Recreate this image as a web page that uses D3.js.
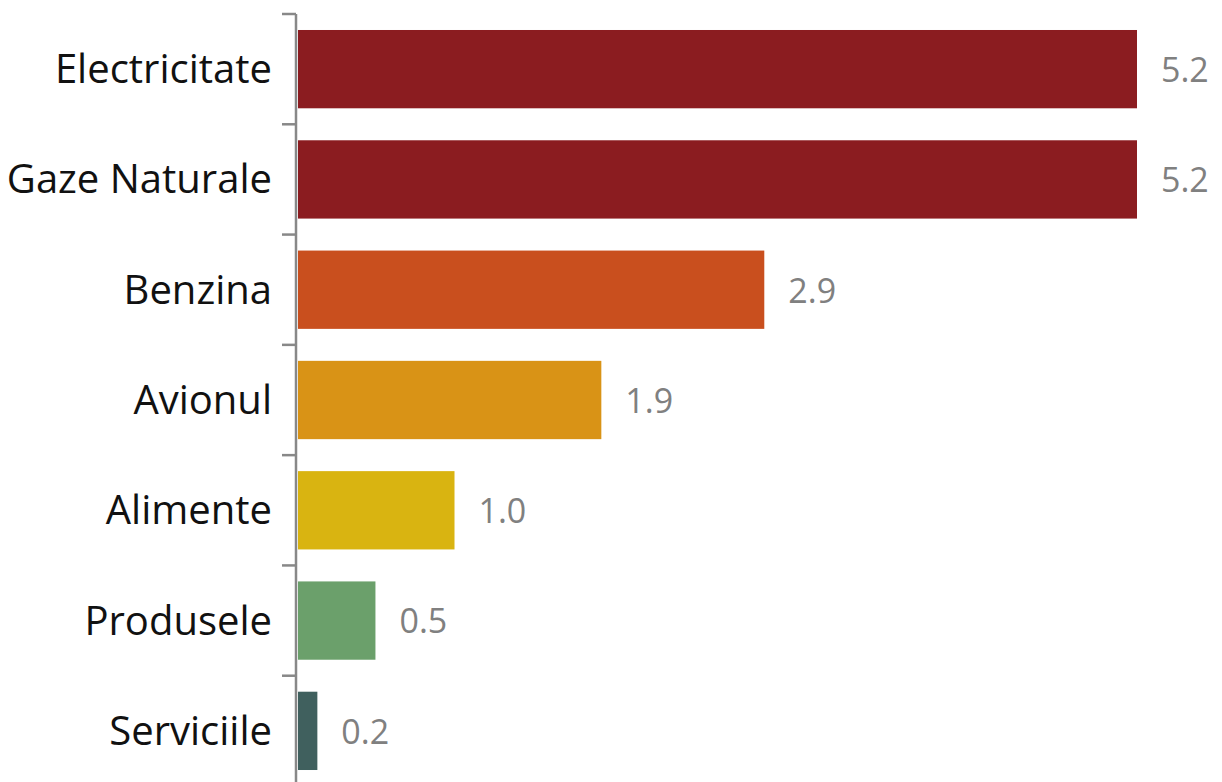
<!DOCTYPE html>
<html>
<head>
<meta charset="utf-8">
<script src="https://cdn.jsdelivr.net/npm/d3@7"></script>
<style>
	body { margin: 0; background: #fff; }
	text { font-family: "Open Sans", "Noto Sans", sans-serif; }
</style>
</head>
<body>
<div id="chart-area"></div>
<script>

const categories = ["Electricitate", "Gaze Naturale", "Benzina", "Avionul", "Alimente", "Produsele", "Serviciile"];
const values = [5.2, 5.2, 2.89, 1.88, 0.97, 0.48, 0.12];
const valueLabels = ["5.2", "5.2", "2.9", "1.9", "1.0", "0.5", "0.2"];
const colors = ["#8b1c20", "#8b1c20", "#c94f1e", "#d99316", "#d9b411", "#6ba06b", "#40605e"];

const width = 1222;
const height = 782;
const margin = {top: 14, right: 85, bottom: -4, left: 298};
const pad = 0.29;

var svg = d3.select("#chart-area").append("svg")
	.attr("width", width)
	.attr("height", height);

// 比例尺
var x = d3.scaleLinear()
	.domain([0, 5.2])
	.range([margin.left, width - margin.right]);

var y = d3.scaleBand()
	.domain(categories)
	.range([margin.top, height - margin.bottom])
	.paddingInner(pad)
	.paddingOuter(pad / 2);

var step = y.step();

// 条形
svg.selectAll(".bar")
	.data(categories)
	.enter().append("rect")
	.attr("class", "bar")
	.attr("x", x(0))
	.attr("y", d => y(d))
	.attr("width", (d, i) => x(values[i]) - x(0))
	.attr("height", y.bandwidth())
	.attr("fill", (d, i) => colors[i]);

// y轴
svg.append("line")
	.attr("x1", x(0) - 2).attr("x2", x(0) - 2)
	.attr("y1", margin.top).attr("y2", height)
	.attr("stroke", "#888")
	.attr("stroke-width", 2.5);

svg.selectAll(".tick")
	.data(categories)
	.enter().append("line")
	.attr("class", "tick")
	.attr("x1", x(0) - 16).attr("x2", x(0) - 2)
	.attr("y1", d => y(d) - step * pad / 2)
	.attr("y2", d => y(d) - step * pad / 2)
	.attr("stroke", "#888")
	.attr("stroke-width", 2.5);

// 类别标签
svg.selectAll(".cat")
	.data(categories)
	.enter().append("text")
	.attr("class", "cat")
	.attr("x", x(0) - 26)
	.attr("y", d => y(d) + y.bandwidth() / 2)
	.attr("dy", ".35em")
	.attr("text-anchor", "end")
	.attr("font-size", 40)
	.attr("fill", "#111")
	.text(d => d);

// 数值标签
svg.selectAll(".val")
	.data(categories)
	.enter().append("text")
	.attr("class", "val")
	.attr("x", (d, i) => x(values[i]) + 24)
	.attr("y", d => y(d) + y.bandwidth() / 2)
	.attr("dy", ".38em")
	.attr("font-size", 34)
	.attr("fill", "#808080")
	.text((d, i) => valueLabels[i]);

</script>
</body>
</html>
